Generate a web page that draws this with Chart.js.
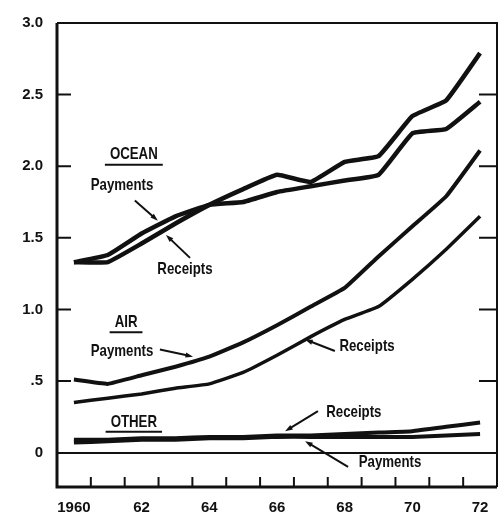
<!DOCTYPE html>
<html>
<head>
<meta charset="utf-8">
<script src="https://cdn.jsdelivr.net/npm/chart.js@4.4.1/dist/chart.umd.min.js"></script>
<style>
  html, body { margin: 0; padding: 0; background: #fff; }
  canvas { display: block; }
</style>
</head>
<body>
<canvas id="transportChart" width="502" height="514"></canvas>
<script>
// Transportation receipts and payments, billions of dollars
const years = [1960, 1961, 1962, 1963, 1964, 1965, 1966, 1967, 1968, 1969, 1970, 1971, 1972];
const xTickLabels = ['1960', '', '62', '', '64', '', '66', '', '68', '', '70', '', '72'];
const yTickValues = [0, 0.5, 1.0, 1.5, 2.0, 2.5, 3.0];
const yTickLabels = ['0', '.5', '1.0', '1.5', '2.0', '2.5', '3.0'];

const oceanPayments = [1.33, 1.38, 1.53, 1.65, 1.73, 1.75, 1.82, 1.86, 1.90, 1.94, 2.23, 2.26, 2.45];
const oceanReceipts = [1.33, 1.33, 1.46, 1.60, 1.73, 1.84, 1.94, 1.89, 2.03, 2.07, 2.35, 2.46, 2.79];
const airPayments = [0.51, 0.48, 0.54, 0.60, 0.67, 0.77, 0.89, 1.02, 1.15, 1.37, 1.58, 1.79, 2.11];
const airReceipts = [0.35, 0.38, 0.41, 0.45, 0.48, 0.56, 0.68, 0.81, 0.93, 1.02, 1.21, 1.42, 1.65];
const otherReceipts = [0.09, 0.09, 0.10, 0.10, 0.11, 0.11, 0.12, 0.12, 0.13, 0.14, 0.15, 0.18, 0.21];
const otherPayments = [0.07, 0.08, 0.09, 0.09, 0.10, 0.10, 0.11, 0.11, 0.11, 0.11, 0.11, 0.12, 0.13];

// Headings and labels with their arrows, placed in data units
const headings = [
    { text: 'OCEAN', x: 1961.77, y: 2.08 },
    { text: 'AIR', x: 1961.54, y: 0.91 },
    { text: 'OTHER', x: 1961.77, y: 0.215 }
];
const callouts = [
    { text: 'Payments', x: 1961.42, y: 1.87, from: [1961.80, 1.76], to: [1962.48, 1.62] },
    { text: 'Receipts', x: 1963.28, y: 1.28, from: [1963.43, 1.36], to: [1962.72, 1.52] },
    { text: 'Payments', x: 1961.42, y: 0.71, from: [1962.54, 0.72], to: [1963.52, 0.67] },
    { text: 'Receipts', x: 1968.66, y: 0.74, from: [1967.71, 0.71], to: [1966.83, 0.79] },
    { text: 'Receipts', x: 1968.27, y: 0.28, from: [1967.21, 0.29], to: [1966.24, 0.15] },
    { text: 'Payments', x: 1969.34, y: -0.07, from: [1968.10, -0.10], to: [1966.83, 0.08] }
];

const INK = '#111';
const LABEL_FONT = 'bold 17px "Liberation Sans", Arial, sans-serif';
const SQUEEZE = 0.78;   // the original lettering is a narrow gothic

function toPoints(values) {
    return values.map((v, i) => ({ x: years[i], y: v }));
}

function makeSeries(label, values, width) {
    return {
        label: label,
        data: toPoints(values),
        borderColor: INK,
        borderWidth: width,
        pointRadius: 0,
        tension: 0.1,
        fill: false
    };
}

function drawArrow(ctx, x1, y1, x2, y2) {
    const ang = Math.atan2(y2 - y1, x2 - x1);
    const head = 8;
    ctx.beginPath();
    ctx.moveTo(x1, y1);
    ctx.lineTo(x2 - Math.cos(ang) * head * 0.8, y2 - Math.sin(ang) * head * 0.8);
    ctx.stroke();
    ctx.beginPath();
    ctx.moveTo(x2, y2);
    ctx.lineTo(x2 - head * Math.cos(ang - 0.33), y2 - head * Math.sin(ang - 0.33));
    ctx.lineTo(x2 - head * Math.cos(ang + 0.33), y2 - head * Math.sin(ang + 0.33));
    ctx.closePath();
    ctx.fill();
}

function narrowText(ctx, text, x, y) {
    ctx.save();
    ctx.translate(x, y);
    ctx.scale(SQUEEZE, 1);
    ctx.fillText(text, 0, 0);
    ctx.restore();
    return ctx.measureText(text).width * SQUEEZE;
}

// Frame, inward tick marks and the text labels
const framePlugin = {
    id: 'frame',
    afterDraw(chart) {
        const { ctx, chartArea: a, scales } = chart;
        const xs = scales.x, ys = scales.y;
        ctx.save();
        ctx.strokeStyle = INK;
        ctx.fillStyle = INK;
        ctx.lineCap = 'butt';

        // border
        ctx.lineWidth = 3;
        ctx.beginPath();
        ctx.moveTo(a.left, a.top);
        ctx.lineTo(a.left, a.bottom);
        ctx.lineTo(a.right, a.bottom);
        ctx.stroke();
        ctx.lineWidth = 2;
        ctx.beginPath();
        ctx.moveTo(a.left, a.top);
        ctx.lineTo(a.right, a.top);
        ctx.lineTo(a.right, a.bottom);
        ctx.stroke();

        // y ticks on both sides
        ctx.lineWidth = 2;
        yTickValues.forEach(v => {
            if (v === 0 || v === 3.0) return;
            const py = ys.getPixelForValue(v);
            ctx.beginPath();
            ctx.moveTo(a.left, py);
            ctx.lineTo(a.left + 14, py);
            ctx.moveTo(a.right, py);
            ctx.lineTo(a.right - 18, py);
            ctx.stroke();
        });

        // x ticks between years
        for (let i = 0; i < years.length - 1; i++) {
            const px = xs.getPixelForValue(years[i] + 0.5);
            ctx.beginPath();
            ctx.moveTo(px, a.bottom);
            ctx.lineTo(px, a.bottom - 10);
            ctx.stroke();
        }

        // headings, underlined
        ctx.font = LABEL_FONT;
        ctx.textAlign = 'center';
        ctx.textBaseline = 'middle';
        headings.forEach(h => {
            const px = xs.getPixelForValue(h.x);
            const py = ys.getPixelForValue(h.y);
            const w = narrowText(ctx, h.text, px, py);
            ctx.lineWidth = 2;
            ctx.beginPath();
            ctx.moveTo(px - w / 2 - 5, py + 10);
            ctx.lineTo(px + w / 2 + 5, py + 10);
            ctx.stroke();
        });

        // callouts
        callouts.forEach(c => {
            narrowText(ctx, c.text, xs.getPixelForValue(c.x), ys.getPixelForValue(c.y));
            ctx.lineWidth = 2;
            drawArrow(ctx,
                xs.getPixelForValue(c.from[0]), ys.getPixelForValue(c.from[1]),
                xs.getPixelForValue(c.to[0]), ys.getPixelForValue(c.to[1]));
        });
        ctx.restore();
    }
};

new Chart(document.getElementById('transportChart'), {
    type: 'line',
    data: {
        datasets: [
            makeSeries('Ocean payments', oceanPayments, 4.5),
            makeSeries('Ocean receipts', oceanReceipts, 4.5),
            makeSeries('Air payments', airPayments, 4),
            makeSeries('Air receipts', airReceipts, 3.5),
            makeSeries('Other receipts', otherReceipts, 4),
            makeSeries('Other payments', otherPayments, 4)
        ]
    },
    options: {
        responsive: false,
        devicePixelRatio: 1,
        animation: false,
        layout: { padding: { top: 14, right: 5, left: 0, bottom: 0 } },
        plugins: {
            legend: { display: false },
            tooltip: { enabled: false }
        },
        scales: {
            x: {
                type: 'linear',
                min: 1959.5,
                max: 1972.5,
                afterBuildTicks: s => { s.ticks = years.map(y => ({ value: y })); },
                afterFit: s => { s.height = 27; },
                grid: { display: false, drawTicks: false },
                border: { display: false },
                ticks: {
                    autoSkip: false,
                    maxRotation: 0,
                    padding: 12,
                    color: INK,
                    font: { family: 'Liberation Sans', size: 15, weight: 'bold' },
                    callback: (v) => xTickLabels[years.indexOf(v)] || ''
                }
            },
            y: {
                min: -0.24,
                max: 3.0,
                afterBuildTicks: s => { s.ticks = yTickValues.map(v => ({ value: v })); },
                afterFit: s => { s.width = 57; },
                grid: {
                    drawTicks: false,
                    lineWidth: 2,
                    color: c => (c.tick && c.tick.value === 0 ? INK : 'rgba(0,0,0,0)')
                },
                border: { display: false },
                ticks: {
                    padding: 14,
                    color: INK,
                    font: { family: 'Liberation Sans', size: 15, weight: 'bold' },
                    callback: (v) => yTickLabels[yTickValues.indexOf(v)]
                }
            }
        }
    },
    plugins: [framePlugin]
});
</script>
</body>
</html>
